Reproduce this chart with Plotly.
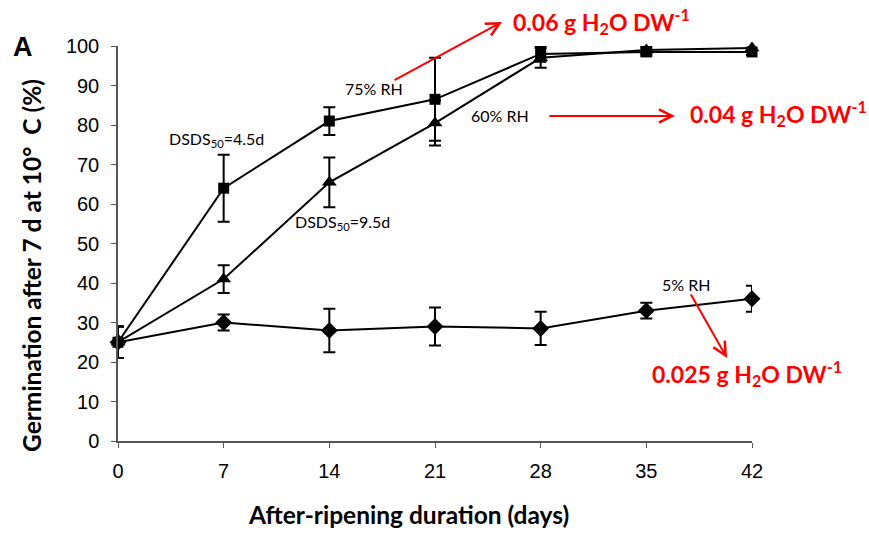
import plotly.graph_objects as go

days = [0, 7, 14, 21, 28, 35, 42]

rh75 = [25, 64, 81, 86.5, 98, 98.5, 98.5]
rh75_err = [4, 8.5, 3.5, 10.5, 2, 1, 0.8]

rh60 = [25, 41, 65.5, 80.5, 97, 99, 99.5]
rh60_err = [4, 3.5, 6.3, 5.7, 2.5, 1, 0.8]

rh5 = [25, 30, 28, 29, 28.5, 33, 36]
rh5_err = [4, 2, 5.5, 4.8, 4.2, 2, 3.3]

x_ticks = [0, 7, 14, 21, 28, 35, 42]
y_ticks = [0, 10, 20, 30, 40, 50, 60, 70, 80, 90, 100]

fig = go.Figure()

def add_series(y, err, symbol, size, name):
    fig.add_trace(go.Scatter(
        x=days, y=y, name=name, mode="lines+markers",
        line=dict(color="black", width=2),
        marker=dict(symbol=symbol, size=size, color="black"),
        error_y=dict(type="data", array=err, visible=True, color="black",
                     thickness=2, width=6),
        cliponaxis=False, showlegend=False))

add_series(rh5, rh5_err, "diamond", 13, "5% RH")
add_series(rh60, rh60_err, "triangle-up", 13, "60% RH")
add_series(rh75, rh75_err, "square", 11, "75% RH")

LM, RM, TM, BM = 118, 117, 46, 92
W, H = 869, 533
PW, PH = W - LM - RM, H - TM - BM

def px(xp, yp):
    """pixel -> paper fraction"""
    return (xp - LM) / PW, (H - BM - yp) / PH

black_font = dict(family="Lato, Open Sans, sans-serif", size=16, color="black")
red_font = dict(family="Lato, Open Sans, sans-serif", size=23, color="#ff0000")
title_font = dict(family="Lato, Open Sans, sans-serif", size=24.5, color="black")

labels = [
    ((374, 88), "75% RH", black_font, "center", 0),
    ((500, 116), "60% RH", black_font, "center", 0),
    ((216, 139), "DSDS<sub>50</sub>=4.5d", black_font, "center", 0),
    ((342, 222), "DSDS<sub>50</sub>=9.5d", black_font, "center", 0),
    ((686, 284), "5% RH", black_font, "center", 0),
    ((511, 22), "<b>0.06 g H<sub>2</sub>O DW<sup>-1</sup></b>", red_font, "left", 0),
    ((688, 113), "<b>0.04 g H<sub>2</sub>O DW<sup>-1</sup></b>", red_font, "left", 0),
    ((650, 373), "<b>0.025 g H<sub>2</sub>O DW<sup>-1</sup></b>", red_font, "left", 0),
    ((408, 514), "<b>After-ripening duration (days)</b>", title_font, "center", 0),
    ((31, 266), "<b>Germination after 7 d at 10°  C (%)</b>", title_font, "center", -90),
]
anns = []
for (xp, yp), text, font, xa, ang in labels:
    fx, fy = px(xp, yp)
    anns.append(dict(xref="paper", yref="paper", x=fx, y=fy, text=text, font=font,
                     xanchor=xa, yanchor="middle", showarrow=False, textangle=ang))

# arrows: head pixel, tail pixel
arrows = [
    ((502, 22), (393, 81)),
    ((675, 116), (548, 116)),
    ((727, 358), (690, 293)),
]
for (hx, hy), (tx, ty) in arrows:
    fx, fy = px(hx, hy)
    anns.append(dict(xref="paper", yref="paper", x=fx, y=fy, text="",
                     showarrow=True, arrowhead=5, arrowsize=1.3, arrowwidth=2,
                     arrowcolor="#ff0000", standoff=0, startstandoff=0,
                     ax=tx - hx, ay=ty - hy))

fx, fy = px(23, 47)
anns.append(dict(xref="paper", yref="paper", x=fx, y=fy, xanchor="center",
                 yanchor="middle", text="<b>A</b>", showarrow=False,
                 font=dict(family="Liberation Sans, Arial", size=27, color="black")))

tick_font = dict(family="Liberation Sans, Arial", size=20, color="black")

fig.update_layout(
    width=W, height=H,
    margin=dict(l=LM, r=RM, t=TM, b=BM),
    paper_bgcolor="white", plot_bgcolor="white",
    annotations=anns,
    xaxis=dict(range=[0, 42], tickvals=x_ticks, ticks="outside", ticklen=5,
               tickcolor="#555", showline=True, linecolor="#555", linewidth=1.5,
               showgrid=False, zeroline=False, tickfont=tick_font,
               ticklabelstandoff=6),
    yaxis=dict(range=[0, 100], tickvals=y_ticks, ticks="outside", ticklen=5,
               tickcolor="#555", showline=True, linecolor="#555", linewidth=1.5,
               showgrid=False, zeroline=False, tickfont=tick_font,
               ticklabelstandoff=8),
)

fig.write_html("out.html")
